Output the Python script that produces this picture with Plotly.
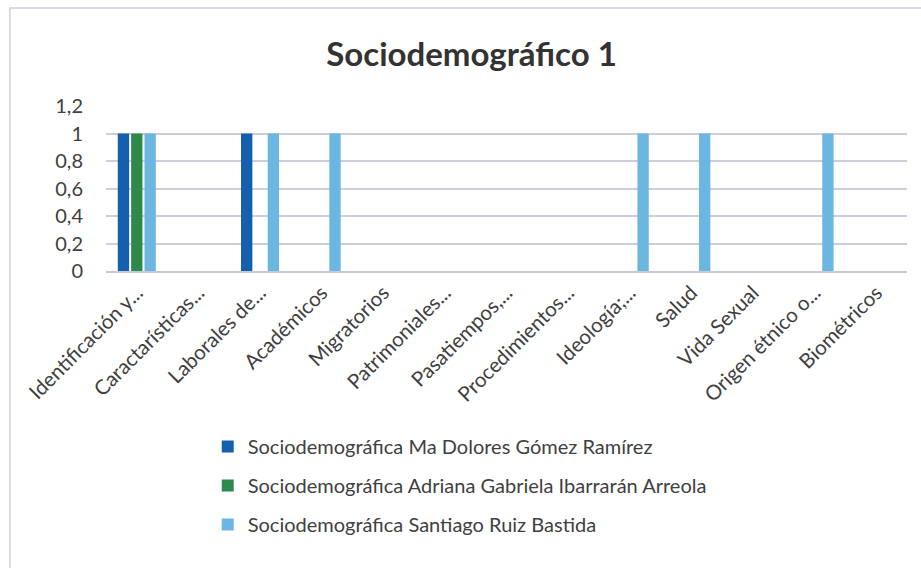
import plotly.graph_objects as go

categories = ["Identificación y...", "Caractarísticas...", "Laborales de...", "Académicos",
              "Migratorios", "Patrimoniales...", "Pasatiempos,...", "Procedimientos...",
              "Ideología;...", "Salud", "Vida Sexual", "Origen étnico o...", "Biométricos"]
series_names = ["Sociodemográfica Ma Dolores Gómez Ramírez",
                "Sociodemográfica Adriana Gabriela Ibarrarán Arreola",
                "Sociodemográfica Santiago Ruiz Bastida"]
dolores = [1, 0, 1, 0, 0, 0, 0, 0, 0, 0, 0, 0, 0]
adriana = [1, 0, 0, 0, 0, 0, 0, 0, 0, 0, 0, 0, 0]
santiago = [1, 0, 1, 1, 0, 0, 0, 0, 1, 1, 0, 1, 0]
colors = ["#1560ae", "#2d8a4c", "#6cb6e2"]
y_ticks = [0, 0.2, 0.4, 0.6, 0.8, 1, 1.2]
y_tick_text = ["0", "0,2", "0,4", "0,6", "0,8", "1", "1,2"]

FONT = "Lato"
fig = go.Figure()
for i, (name, vals) in enumerate(zip(series_names, [dolores, adriana, santiago])):
    fig.add_trace(go.Bar(x=categories, y=vals, name=name, marker_color=colors[i],
                         marker_line_width=0, legendgroup=str(i)))

fig.update_layout(
    width=921, height=568,
    paper_bgcolor="white", plot_bgcolor="white",
    margin=dict(l=106, r=14, t=106, b=297),
    separators=", ",
    barmode="group", bargap=0.35, bargroupgap=0.15,
    font=dict(family=FONT, color="#404040"),
    title=dict(text="<b>Sociodemográfico 1</b>", x=0.512, xanchor="center", y=0.905, yanchor="middle",
               font=dict(family=FONT, size=33, color="#333333")),
    showlegend=True,
    legend=dict(orientation="v", x=0.127, xanchor="left", y=-0.945, yanchor="top",
                font=dict(family=FONT, size=20, color="#404040"),
                traceorder="grouped", tracegroupgap=10, bgcolor="rgba(0,0,0,0)"),
    xaxis=dict(tickangle=-45, tickfont=dict(family=FONT, size=20.5, color="#404040"),
               showline=True, linecolor="#c8c8d6", linewidth=1.5, ticks="", showgrid=False,
               automargin=False),
    yaxis=dict(range=[0, 1.2], tickvals=y_ticks, ticktext=y_tick_text,
               tickfont=dict(family=FONT, size=20, color="#404040"),
               showgrid=True, gridcolor="#cdcddb", gridwidth=1.5, zeroline=False, ticks="",
               ticklabelstandoff=22, automargin=False),
    shapes=[dict(type="rect", xref="paper", yref="paper", x0=-0.12, x1=1.2, y0=-2.2, y1=1.594,
                 line=dict(color="#cfcfdc", width=1.5), fillcolor="rgba(0,0,0,0)", layer="below")],
)
fig.write_html("out.html", config={"displayModeBar": False},
               post_script="document.body.style.margin='0px';")
